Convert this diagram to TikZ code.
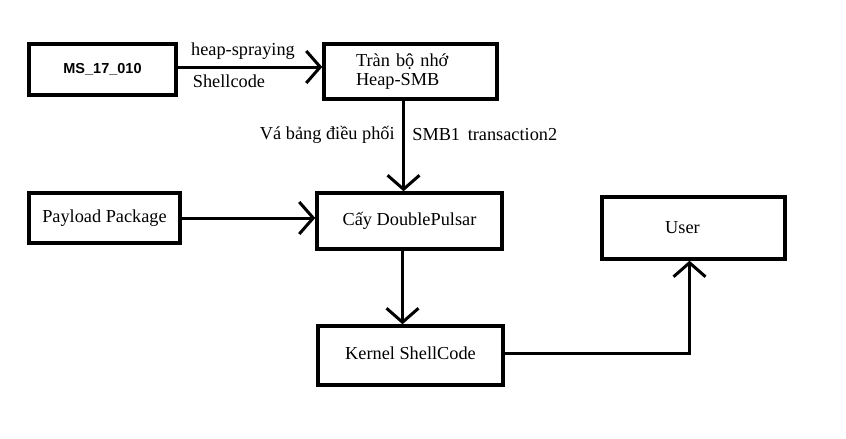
\documentclass[tikz,border=0pt]{standalone}
\usepackage{fontspec}
\setmainfont{Liberation Serif}
\newfontfamily\sanshead{Liberation Sans}
\usepackage{tikz}
\usetikzlibrary{arrows.meta,positioning}
\tikzstyle{blockbox} = [rectangle, draw=black, line width=3.5pt, fill=white, text centered, inner sep=0pt]
\tikzstyle{arrow} = [line width=3pt, -{Straight Barb[length=14pt,width=32pt,line width=3pt]}]

\begin{document}
\begin{tikzpicture}[x=1pt, y=-1pt, font=\fontsize{18.3}{21}\selectfont]
\useasboundingbox (0,0) rectangle (846,439);
% Boxes
\node (ms) [blockbox, minimum width=147pt, minimum height=51pt] at (102.5,69.5) {\sanshead\bfseries\fontsize{14.5}{17}\selectfont MS\_17\_010};
\node (heap) [blockbox, minimum width=173pt, minimum height=55pt, text width=109pt, align=left] at (410.5,71.5) {\raisebox{-2pt}{Tràn bộ nhớ}\\Heap-SMB};
\node (payload) [blockbox, minimum width=151pt, minimum height=50pt] at (104.5,218) {\raisebox{4pt}{Payload Package}};
\node (cay) [blockbox, minimum width=185pt, minimum height=56pt] at (409.5,221) {\raisebox{3pt}{Cấy DoublePulsar}};
\node (kernel) [blockbox, minimum width=185pt, minimum height=59pt] at (410.5,355.5) {\raisebox{4pt}{Kernel ShellCode}};
\node (user) [blockbox, minimum width=183pt, minimum height=62pt] at (693.5,228) {\hspace*{-22pt}User};
% Arrows
\draw[arrow] ([yshift=2.5pt]ms.east) -- node[above=3pt, xshift=-7pt] {heap-spraying} node[below=3pt, xshift=-21pt] {Shellcode} ([yshift=2.5pt]ms.east -| heap.west);
\draw[arrow] ([xshift=-7pt]heap.south) -- node[left=4pt, yshift=11pt] {Vá bảng điều phối} node[right=4pt, yshift=11pt] {SMB1\, transaction2} ([xshift=-7pt]heap.south |- cay.north);
\draw[arrow] (payload.east) -- (payload.east -| cay.west);
\draw[arrow] ([xshift=-7pt]cay.south) -- ([xshift=-7pt]cay.south |- kernel.north);
\draw[arrow] ([yshift=2.5pt]kernel.east) -| ([xshift=-4pt]user.south);
\end{tikzpicture}
\end{document}
